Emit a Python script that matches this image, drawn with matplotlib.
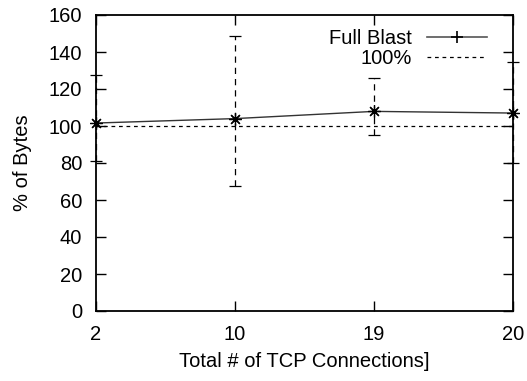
import matplotlib
matplotlib.use("Agg")
import matplotlib.pyplot as plt
from matplotlib.lines import Line2D

categories = ["2", "10", "19", "20"]
full_blast = [101.6, 104.0, 107.9, 107.0]
err_low = [81.0, 67.4, 94.9, 80.1]
err_high = [127.4, 148.6, 126.2, 134.5]
reference = 100

plt.rcParams['font.family'] = ['Liberation Sans', 'DejaVu Sans']
fs = 14.5

fig = plt.figure(figsize=(5.27, 3.81), dpi=100)
ax = fig.add_axes([96/527, 70/381, 417/527, 296/381])

x = list(range(len(categories)))
lower = [v - l for v, l in zip(full_blast, err_low)]
upper = [h - v for v, h in zip(full_blast, err_high)]

eb = ax.errorbar(x, full_blast, yerr=[lower, upper], fmt='none',
                 ecolor='black', elinewidth=0.9, capsize=4, capthick=0.9,
                 zorder=3, clip_on=False)
for lc in eb[2]:
    lc.set_linestyle((0, (5, 4)))

ax.plot(x, full_blast, color='#333333', linewidth=1.0,
        marker=(8, 2, 0), markersize=9, markeredgewidth=0.9,
        markeredgecolor='black', zorder=4, clip_on=False)
ax.axhline(reference, color='black', linewidth=0.9, linestyle=(0, (3, 3)), zorder=2)

ax.set_xlim(0, len(categories) - 1)
ax.set_ylim(0, 160)
ax.set_xticks(x)
ax.set_xticklabels(categories)
ax.set_yticks(range(0, 161, 20))
ax.tick_params(direction='in', length=7, width=1.0, labelsize=fs,
               top=True, right=True, pad=10)
for s in ax.spines.values():
    s.set_linewidth(1.3)

ax.set_xlabel("Total # of TCP Connections]", fontsize=fs, labelpad=6)
ax.set_ylabel("% of Bytes", fontsize=fs, labelpad=12)

handles = [Line2D([], [], color='#555555', linewidth=1.2, marker='+',
                  markersize=8, markeredgecolor='black', markeredgewidth=1.2),
           Line2D([], [], color='black', linewidth=0.9, linestyle=(0, (3, 3)))]
leg = ax.legend(handles, ["Full Blast", "100%"], loc='upper right',
                frameon=False, fontsize=fs, markerfirst=False,
                handlelength=3.0, handletextpad=0.75, labelspacing=0.05,
                borderaxespad=0.3, bbox_to_anchor=(0.972, 1.0))
for t in leg.get_texts():
    t.set_ha('right')

fig.savefig("out.png", dpi=100)
